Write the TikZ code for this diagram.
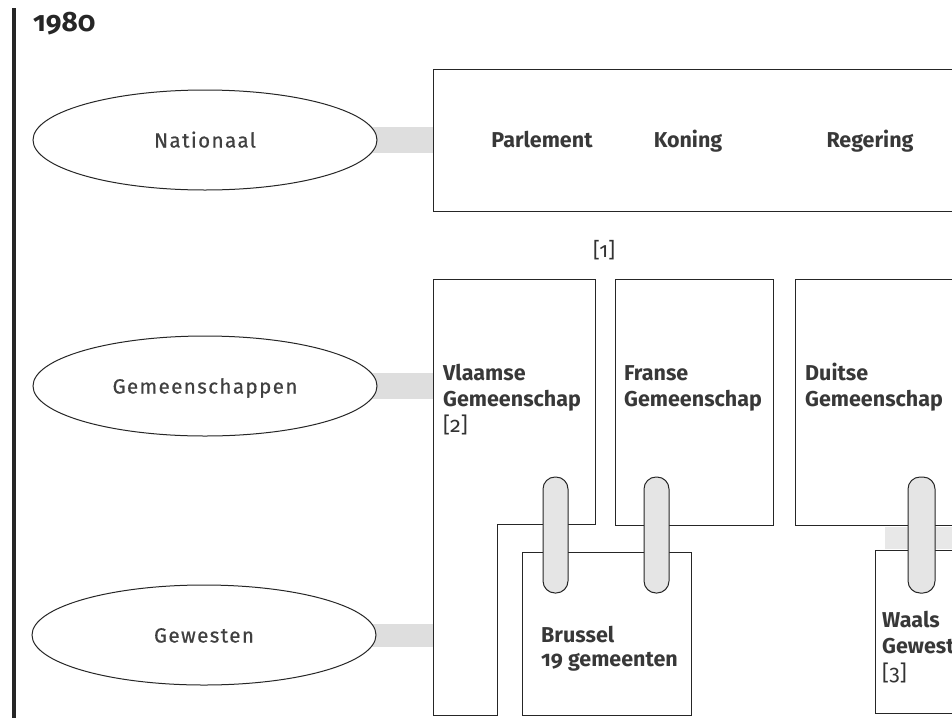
\documentclass[tikz,border=0pt]{standalone}
\usepackage{fontspec}
\setmainfont{Fira Sans}[Numbers=OldStyle]
\newfontfamily\ellfont{Fira Sans}[LetterSpace=7,Numbers=OldStyle,FakeBold=0.6]
\usetikzlibrary{shapes.geometric,calc}
\pgfdeclarelayer{bg}
\pgfsetlayers{bg,main}
\begin{document}
\begin{tikzpicture}[x=1pt,y=-1pt,
  line/.style={draw=black!85, line width=1pt},
  ell/.style={ellipse, draw=black!85, line width=1pt, fill=white, minimum width=344pt, minimum height=100pt, inner sep=0pt, font=\ellfont\fontsize{20.5}{24}\selectfont, text=black!75, text height=15pt, text depth=0pt},
  band/.style={fill=black!13},
  lbl/.style={font=\bfseries\fontsize{21.5}{25}\selectfont, text=black!78, inner sep=0pt, anchor=base west},
  reflbl/.style={font=\fontsize{21.5}{25}\selectfont, text=black!80, inner sep=0pt, anchor=base west},
  toplbl/.style={font=\bfseries\fontsize{21.5}{25}\selectfont, text=black!78, inner sep=0pt, anchor=base},
  pill/.style={draw=black!85, line width=1pt, fill=black!10, rounded corners=12pt, minimum width=25pt, minimum height=116pt, inner sep=0pt},
  bigbox/.style={draw=black!85, line width=1pt, minimum width=540pt, minimum height=142pt, inner sep=0pt}
]
\useasboundingbox (0,0) rectangle (952,718);
\clip (0,0) rectangle (952,718);

% left bar and year
\draw[line width=3.5pt, black!85] (14,8) -- (14,718);
\node[font=\bfseries\fontsize{28}{30}\selectfont, text=black!85, anchor=base west, inner sep=0pt] (yr) at (33,31) {1980};

% national box
\node[bigbox] (nbox) at (703,140) {};
\node[toplbl] (parl) at (542,147) {Parlement};
\node[toplbl] (kon) at (688,147) {Koning};
\node[toplbl] (reg) at (870,147) {Regering};
\node[font=\fontsize{21}{25}\selectfont, text=black!80, inner sep=0pt, anchor=base] (n1) at (604,257) {[1]};

% ellipses
\node[ell] (nat) at (205,140) {Nationaal};
\node[ell] (gem) at (205,386) {Gemeenschappen};
\node[ell] (gew) at (204,635) {Gewesten};

% communities and regions
\draw[line] (433,279) -- (595,279) -- (595,524) -- (497,524) -- (497,715) -- (433,715) -- cycle;
\coordinate (vlg) at (433,386);
\coordinate (vlw) at (433,636);
\draw[line] (615,279) rectangle (773,525);
\draw[line] (960,279) -- (795,279) -- (795,525) -- (960,525);
\draw[line] (522,552) rectangle (691,715);
\draw[line] (960,550) -- (875,550) -- (875,713) -- (960,713);
\coordinate (waw) at (885,538);
\coordinate (wae) at (960,538);

% labels
\node[lbl] (vl1) at (443,380) {Vlaamse};
\node[lbl] (vl2) at (443,406) {Gemeenschap};
\node[reflbl] (vl3) at (443,432) {[2]};
\node[lbl] (fr1) at (624,380) {Franse};
\node[lbl] (fr2) at (624,406) {Gemeenschap};
\node[lbl] (du1) at (805,380) {Duitse};
\node[lbl] (du2) at (805,406) {Gemeenschap};
\node[lbl] (br1) at (541,642) {Brussel};
\node[lbl] (br2) at (541,666) {19 gemeenten};
\node[lbl] (wa1) at (882,627) {Waals};
\node[lbl] (wa2) at (882,653) {Gewest};
\node[reflbl] (wa3) at (882,680) {[3]};

% grey bands
\begin{pgfonlayer}{bg}
\fill[band] ($(nat.east)+(-15,-13)$) rectangle ($(nbox.west)+(0,13)$);
\fill[band] ($(gem.east)+(-15,-13)$) rectangle ($(vlg)+(0,13)$);
\fill[band] ($(gew.east)+(-15,-11)$) rectangle ($(vlw)+(0,11)$);
\fill[band, black!9] ($(waw)+(0,-11)$) rectangle ($(wae)+(0,11)$);
\end{pgfonlayer}

% links (pills)
\node[pill] (p1) at (555.5,535) {};
\node[pill] (p2) at (656.5,535) {};
\node[pill, minimum width=27pt] (p3) at (921.5,535) {};
\end{tikzpicture}
\end{document}
